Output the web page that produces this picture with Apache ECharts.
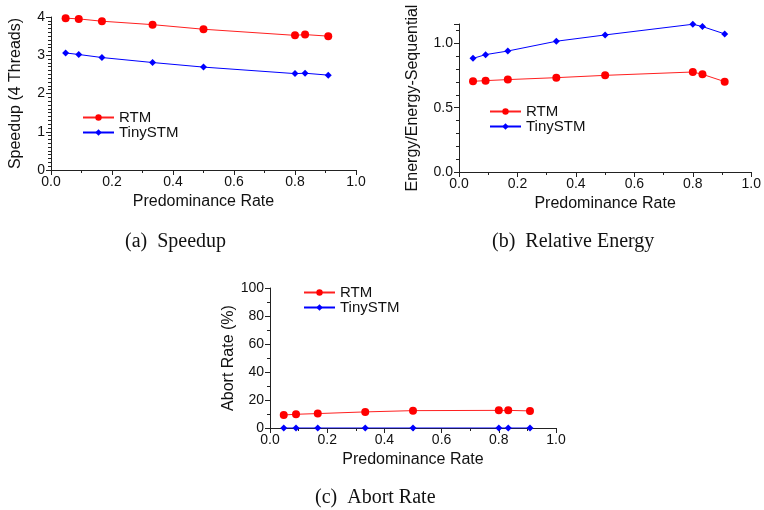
<!DOCTYPE html>
<html><head><meta charset="utf-8">
<script src="https://cdn.jsdelivr.net/npm/echarts@6/dist/echarts.min.js"></script>
<style>html,body{margin:0;padding:0;background:#fff}#c{width:764px;height:510px}</style>
</head><body><div id="c"></div>
<script>
const rates = [0.048, 0.091, 0.167, 0.333, 0.5, 0.8, 0.833, 0.909];
const speedupRTM = [3.97, 3.95, 3.89, 3.80, 3.68, 3.52, 3.54, 3.50];
const speedupTiny = [3.06, 3.02, 2.94, 2.81, 2.69, 2.52, 2.53, 2.48];
const energyRTM = [0.705, 0.710, 0.718, 0.733, 0.751, 0.777, 0.759, 0.702];
const energyTiny = [0.883, 0.912, 0.940, 1.016, 1.065, 1.148, 1.130, 1.073];
const abortRTM = [9.3, 9.8, 10.3, 11.5, 12.4, 12.6, 12.6, 12.2];
const abortTiny = [0, 0, 0, 0, 0, 0, 0, 0];
const seriesNames = ['RTM', 'TinySTM'];
const xLabel = 'Predominance Rate';
const yLabels = ['Speedup (4 Threads)', 'Energy/Energy-Sequential', 'Abort Rate (%)'];
const captions = ['(a)  Speedup', '(b)  Relative Energy', '(c)  Abort Rate'];

const pair = (xs, ys) => xs.map((x, i) => [x, ys[i]]);
const FONT = 'Liberation Sans';
const axisCol = '#222';

function xAxis(gi) {
  return {
    type: 'value', gridIndex: gi, min: 0, max: 1, interval: 0.2,
    name: xLabel, nameLocation: 'middle', nameGap: 24,
    nameTextStyle: {fontFamily: FONT, fontSize: 16, color: '#111'},
    axisLine: {show: true, lineStyle: {color: axisCol, width: 1}},
    axisTick: {show: true, length: 5, lineStyle: {color: axisCol}},
    minorTick: {show: true, splitNumber: 2, length: 3, lineStyle: {color: axisCol}},
    splitLine: {show: false},
    axisLabel: {fontFamily: FONT, fontSize: 14, color: '#111', margin: 5,
      formatter: v => v.toFixed(1)}
  };
}
function yAxis(gi, name, min, max, interval, minorSplit, gap, fmt) {
  return {
    type: 'value', gridIndex: gi, min: min, max: max, interval: interval,
    name: name, nameLocation: 'middle', nameGap: gap,
    nameTextStyle: {fontFamily: FONT, fontSize: 16, color: '#111'},
    axisLine: {show: true, lineStyle: {color: axisCol, width: 1}},
    axisTick: {show: true, length: 5, lineStyle: {color: axisCol}},
    minorTick: {show: true, splitNumber: minorSplit, length: 3, lineStyle: {color: axisCol}},
    splitLine: {show: false},
    axisLabel: {fontFamily: FONT, fontSize: 14, color: '#111', margin: 6, formatter: fmt}
  };
}
function series(gi, name, data) {
  const red = name === 'RTM';
  return {
    type: 'line', name: name, xAxisIndex: gi, yAxisIndex: gi,
    data: data,
    symbol: red ? 'circle' : 'diamond',
    symbolSize: red ? 8 : 7,
    lineStyle: {color: red ? '#ff2020' : '#0000ff', width: 1},
    itemStyle: {color: red ? '#ff0000' : '#0000ff'},
    animation: false
  };
}
function legend(left, top) {
  return {
    data: seriesNames, orient: 'vertical', left: left, top: top,
    itemWidth: 31, itemHeight: 8, itemGap: 0, padding: 0,
    textStyle: {fontFamily: FONT, fontSize: 15, color: '#111'}
  };
}
const capStyle = {fontFamily: 'Liberation Serif', fontSize: 20, fontWeight: 'normal', color: '#111'};

const chart = echarts.init(document.getElementById('c'));
chart.setOption({
  animation: false,
  backgroundColor: '#fff',
  title: [
    {text: captions[0], left: 125, top: 232, padding: 0, textStyle: capStyle},
    {text: captions[1], left: 492, top: 232, padding: 0, textStyle: capStyle},
    {text: captions[2], left: 315, top: 488, padding: 0, textStyle: capStyle}
  ],
  legend: [legend(82, 110), legend(489, 104), legend(303, 285)],
  grid: [
    {left: 51, right: 408, top: 17, bottom: 340, containLabel: false},
    {left: 459, right: 11, top: 24, bottom: 338, containLabel: false},
    {left: 270, right: 208, top: 288, bottom: 82, containLabel: false}
  ],
  xAxis: [xAxis(0), xAxis(1), xAxis(2)],
  yAxis: [
    yAxis(0, yLabels[0], 0, 4, 1, 10, 27, v => String(v)),
    yAxis(1, yLabels[1], 0, 1.15, 0.5, 5, 38, v => (Math.abs(v / 0.5 - Math.round(v / 0.5)) < 1e-6 ? v.toFixed(1) : '')),
    yAxis(2, yLabels[2], 0, 100, 20, 2, 30, v => String(v))
  ],
  series: [
    series(0, 'RTM', pair(rates, speedupRTM)),
    series(0, 'TinySTM', pair(rates, speedupTiny)),
    series(1, 'RTM', pair(rates, energyRTM)),
    series(1, 'TinySTM', pair(rates, energyTiny)),
    series(2, 'RTM', pair(rates, abortRTM)),
    series(2, 'TinySTM', pair(rates, abortTiny))
  ]
});
</script></body></html>
